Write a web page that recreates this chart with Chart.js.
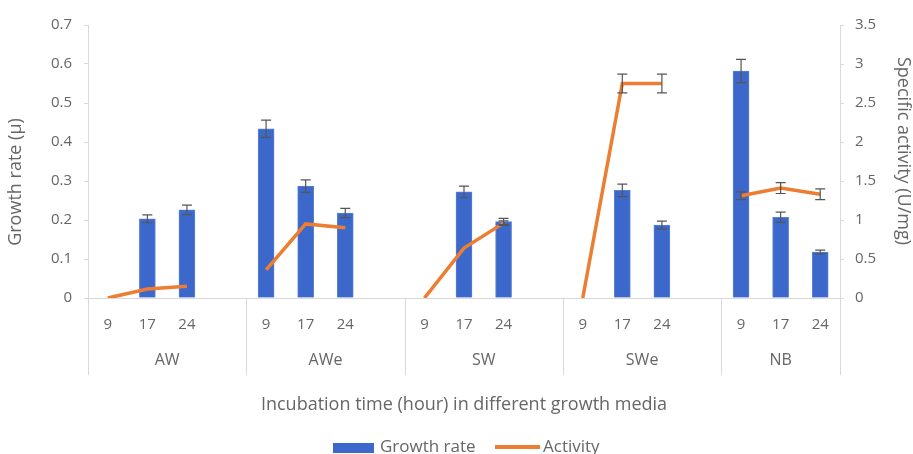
<!DOCTYPE html>
<html>
<head>
<meta charset="utf-8">
<script src="https://cdn.jsdelivr.net/npm/chart.js@4.4.1/dist/chart.umd.min.js"></script>
<style>
  html, body { margin: 0; padding: 0; background: #fff; overflow: hidden; }
  #wrap { width: 913px; height: 454px; position: relative; }
</style>
</head>
<body>
<div id="wrap"><canvas id="c" width="913" height="454"></canvas></div>
<script>
// Growth media and sampling hours
const media = ['AW', 'AWe', 'SW', 'SWe', 'NB'];
const hours = ['9', '17', '24'];

// Growth rate (µ) per medium at 9, 17, 24 h, with error
const growthRate = {
  AW:  [0, 0.203, 0.226],
  AWe: [0.434, 0.287, 0.218],
  SW:  [0, 0.272, 0.196],
  SWe: [0, 0.276, 0.187],
  NB:  [0.582, 0.207, 0.118]
};
const growthErr = {
  AW:  [0, 0.010, 0.012],
  AWe: [0.022, 0.016, 0.012],
  SW:  [0, 0.015, 0.008],
  SWe: [0, 0.016, 0.010],
  NB:  [0.030, 0.013, 0.005]
};

// Specific activity (U/mg) per medium at 9, 17, 24 h, with error
const activity = {
  AW:  [0, 0.115, 0.15],
  AWe: [0.36, 0.95, 0.90],
  SW:  [0, 0.64, 0.96],
  SWe: [0, 2.75, 2.75],
  NB:  [1.31, 1.41, 1.33]
};
const activityErr = {
  AW:  [0, 0, 0],
  AWe: [0, 0, 0],
  SW:  [0, 0, 0.03],
  SWe: [0, 0.12, 0.12],
  NB:  [0.05, 0.07, 0.07]
};

// Axis ranges
const growthTicks = { min: 0, max: 0.7, step: 0.1 };
const activityTicks = { min: 0, max: 3.5, step: 0.5 };

// Flatten into category slots; an empty slot separates each medium
const labels = [], gr = [], grE = [], act = [], actE = [], groupStart = [], groupEnd = [];
media.forEach((m, gi) => {
  groupStart.push(labels.length);
  hours.forEach((h, hi) => {
    labels.push(h);
    gr.push(growthRate[m][hi]);
    grE.push(growthErr[m][hi]);
    act.push(activity[m][hi]);
    actE.push(activityErr[m][hi]);
  });
  if (gi < media.length - 1) {
    labels.push('');
    gr.push(null); grE.push(null); act.push(null); actE.push(null);
  }
  groupEnd.push(labels.length - 1);
});

const FONT = '"Open Sans", "Liberation Sans", sans-serif';
const TXT = '#666666';
const AXIS = '#d9d9d9';
const BLUE = '#3D68CB';
const ORANGE = '#ED7D31';

// Error bars for both series, positioned with the chart's scales
const errorBars = {
  id: 'errorBars',
  afterDatasetsDraw(chart) {
    const ctx = chart.ctx;
    const x = chart.scales.x;
    const draw = (vals, errs, scale) => {
      vals.forEach((v, i) => {
        const e = errs[i];
        if (v === null || !e) return;
        const px = x.getPixelForValue(i);
        const yTop = scale.getPixelForValue(v + e);
        const yBot = scale.getPixelForValue(v - e);
        ctx.beginPath();
        ctx.moveTo(px, yTop); ctx.lineTo(px, yBot);
        ctx.moveTo(px - 5, yTop); ctx.lineTo(px + 5, yTop);
        ctx.moveTo(px - 5, yBot); ctx.lineTo(px + 5, yBot);
        ctx.stroke();
      });
    };
    ctx.save();
    ctx.strokeStyle = '#555555';
    ctx.lineWidth = 1.2;
    draw(gr, grE, chart.scales.y);
    draw(act, actE, chart.scales.y1);
    ctx.restore();
  }
};

// Group separators, group names, axis titles and legend
const decor = {
  id: 'decor',
  afterDraw(chart) {
    const ctx = chart.ctx;
    const x = chart.scales.x;
    const area = chart.chartArea;
    const slot = x.getPixelForValue(1) - x.getPixelForValue(0);
    ctx.save();
    // separators
    const bounds = groupStart.map(s => x.getPixelForValue(s) - slot / 2);
    bounds.push(x.getPixelForValue(groupEnd[groupEnd.length - 1]) + slot / 2);
    ctx.strokeStyle = AXIS;
    ctx.lineWidth = 1;
    bounds.forEach(b => {
      ctx.beginPath();
      ctx.moveTo(Math.round(b) + 0.5, area.bottom);
      ctx.lineTo(Math.round(b) + 0.5, area.bottom + 77);
      ctx.stroke();
    });
    // group names
    ctx.fillStyle = TXT;
    ctx.font = '16px ' + FONT;
    ctx.textAlign = 'center';
    ctx.textBaseline = 'middle';
    media.forEach((m, i) => {
      ctx.fillText(m, (bounds[i] + bounds[i + 1]) / 2, 360);
    });
    // x title
    ctx.font = '18px ' + FONT;
    ctx.fillText('Incubation time (hour) in different growth media', (area.left + area.right) / 2, 405);
    // left title
    ctx.save();
    ctx.translate(16, 182);
    ctx.rotate(-Math.PI / 2);
    ctx.fillText('Growth rate (µ)', 0, 0);
    ctx.restore();
    // right title
    ctx.save();
    ctx.translate(903, 151);
    ctx.rotate(Math.PI / 2);
    ctx.fillText('Specific activity (U/mg)', 0, 0);
    ctx.restore();
    // legend
    const ly = 447;
    ctx.font = '17px ' + FONT;
    ctx.textAlign = 'left';
    ctx.fillStyle = BLUE;
    ctx.fillRect(333, 443, 41, 10);
    ctx.fillStyle = TXT;
    ctx.fillText('Growth rate', 380, ly);
    ctx.strokeStyle = ORANGE;
    ctx.lineWidth = 4;
    ctx.beginPath();
    ctx.moveTo(495, 447); ctx.lineTo(540, 447);
    ctx.stroke();
    ctx.fillText('Activity', 543, ly);
    ctx.restore();
  }
};

new Chart(document.getElementById('c'), {
  type: 'bar',
  data: {
    labels: labels,
    datasets: [
      {
        type: 'line',
        label: 'Activity',
        data: act,
        yAxisID: 'y1',
        borderColor: ORANGE,
        backgroundColor: ORANGE,
        borderWidth: 3.5,
        pointRadius: 0,
        tension: 0,
        spanGaps: false,
        order: 0
      },
      {
        type: 'bar',
        label: 'Growth rate',
        data: gr,
        yAxisID: 'y',
        backgroundColor: BLUE,
        borderColor: '#5A80D6',
        borderWidth: 1,
        barThickness: 16,
        order: 1
      }
    ]
  },
  options: {
    responsive: false,
    animation: false,
    layout: { padding: { top: 25, left: 0, right: 0, bottom: 0 } },
    plugins: { legend: { display: false }, tooltip: { enabled: false } },
    scales: {
      x: {
        offset: true,
        grid: { display: false },
        border: { display: true, color: AXIS },
        ticks: { color: TXT, font: { family: FONT, size: 15 }, padding: 10, maxRotation: 0, autoSkip: false },
        afterFit(s) { s.height = 454 - 298; }
      },
      y: {
        position: 'left',
        min: growthTicks.min, max: growthTicks.max,
        grid: { drawOnChartArea: false, drawTicks: true, tickLength: 4, color: AXIS },
        border: { display: true, color: AXIS },
        ticks: { stepSize: growthTicks.step, color: TXT, font: { family: FONT, size: 15 }, padding: 12,
                 callback: v => +v.toFixed(1) },
        afterFit(s) { s.width = 88; }
      },
      y1: {
        position: 'right',
        min: activityTicks.min, max: activityTicks.max,
        grid: { drawOnChartArea: false, drawTicks: true, tickLength: 4, color: AXIS },
        border: { display: true, color: AXIS },
        ticks: { stepSize: activityTicks.step, color: TXT, font: { family: FONT, size: 15 }, padding: 11,
                 callback: v => +v.toFixed(1) },
        afterFit(s) { s.width = 73; }
      }
    }
  },
  plugins: [errorBars, decor]
});
</script>
</body>
</html>
